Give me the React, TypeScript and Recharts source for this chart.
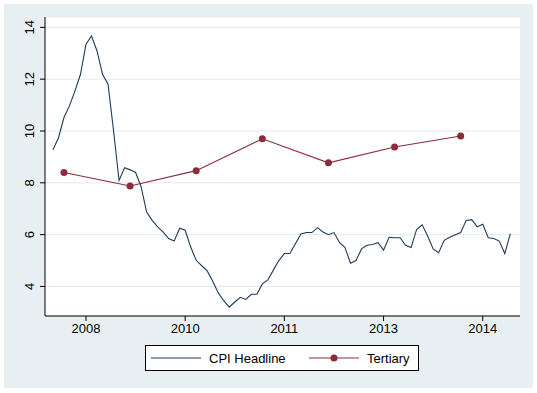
import { LineChart, Line, XAxis, YAxis, CartesianGrid, Legend } from 'recharts';

// monthly CPI headline, 2008m1 .. 2014m12
const cpiHeadline = [
  9.28, 9.73, 10.52, 10.97, 11.55, 12.19, 13.35, 13.67, 13.09, 12.19,
  11.81, 10.01, 8.09, 8.58, 8.5, 8.4, 7.85, 6.87, 6.55, 6.3,
  6.1, 5.85, 5.75, 6.25, 6.17, 5.52, 5.01, 4.8, 4.6, 4.2,
  3.75, 3.45, 3.2, 3.4, 3.58, 3.5, 3.7, 3.7, 4.1, 4.25,
  4.63, 5.0, 5.27, 5.27, 5.65, 6.03, 6.08, 6.08, 6.27, 6.1,
  6.0, 6.08, 5.7, 5.5, 4.9, 5.0, 5.45, 5.59, 5.62, 5.69,
  5.4, 5.9, 5.88, 5.88, 5.59, 5.5, 6.2, 6.38, 5.95, 5.45,
  5.3, 5.78, 5.9, 6.0, 6.08, 6.55, 6.58, 6.3, 6.4, 5.88,
  5.85, 5.75, 5.27, 6.04,
];

// tertiary rate, one reading a year (month index from 2008m1)
const tertiaryMonths = [2, 14, 26, 38, 50, 62, 74];
const tertiary = [8.4, 7.88, 8.47, 9.7, 8.77, 9.38, 9.81];

const xTicks = [6, 24, 42, 60, 78];
const xTickLabels = ['2008', '2010', '2011', '2013', '2014'];
const yTicks = [4, 6, 8, 10, 12, 14];

const cpiData = cpiHeadline.map((v, i) => ({ t: i, cpi: v }));
const tertiaryData = tertiary.map((v, i) => ({ t: tertiaryMonths[i], tertiary: v }));

const NAVY = '#1d3b5a';
const MAROON = '#8a2d3b';
const FONT = '"Liberation Sans", Arial, sans-serif';

function YTick(props: any) {
  const { x, y, payload } = props;
  return (
    <text
      transform={`translate(${x - 4.5},${y}) rotate(-90)`}
      textAnchor="middle"
      fontSize={13}
      fontFamily={FONT}
      fill="#000"
    >
      {payload.value}
    </text>
  );
}

function LegendBox() {
  return (
    <div
      style={{
        position: 'absolute',
        left: 145,
        top: 345,
        width: 272,
        height: 24,
        border: '1px solid #000',
        background: '#fff',
        fontFamily: FONT,
        fontSize: 13,
        color: '#000',
      }}
    >
      <svg width={272} height={24} style={{ position: 'absolute', left: 0, top: 0 }}>
        <line x1={5} x2={55} y1={12} y2={12} stroke={NAVY} strokeWidth={1} />
        <text x={63} y={16.5} fontSize={13} fontFamily={FONT}>CPI Headline</text>
        <line x1={163} x2={213} y1={12} y2={12} stroke={MAROON} strokeWidth={1} />
        <circle cx={188} cy={12} r={3.5} fill={MAROON} />
        <text x={221} y={16.5} fontSize={13} fontFamily={FONT}>Tertiary</text>
      </svg>
    </div>
  );
}

export default function App() {
  return (
    <div style={{ position: 'relative', width: 537, height: 393, background: '#fff' }}>
      <style>{`body { margin: 0; }`}</style>
      <div
        style={{
          position: 'absolute',
          left: 4,
          top: 4,
          width: 529,
          height: 384,
          background: '#e8eff2',
        }}
      />
      <div style={{ position: 'absolute', left: 0, top: 0 }}>
        <LineChart
          width={537}
          height={393}
          margin={{ top: 17, right: 17, left: 0, bottom: 47 }}
        >
          <CartesianGrid horizontal vertical={false} stroke="#e4e9ec" fill="#fff" />
          <XAxis
            type="number"
            dataKey="t"
            domain={[-1.44, 84.76]}
            allowDataOverflow
            ticks={xTicks}
            tickFormatter={(v: number) => xTickLabels[xTicks.indexOf(v)]}
            height={30}
            tickSize={5}
            tickMargin={3}
            stroke="#000"
            tick={{ fontSize: 13, fontFamily: FONT, fill: '#000' }}
          />
          <YAxis
            type="number"
            domain={[2.86, 14.4]}
            allowDataOverflow
            ticks={yTicks}
            width={45}
            tickSize={5}
            tickMargin={2}
            stroke="#000"
            tick={<YTick />}
          />
          <Legend content={() => null} />
          <Line
            data={cpiData}
            dataKey="cpi"
            name="CPI Headline"
            stroke={NAVY}
            strokeWidth={1.1}
            dot={false}
            type="linear"
            isAnimationActive={false}
          />
          <Line
            data={tertiaryData}
            dataKey="tertiary"
            name="Tertiary"
            stroke={MAROON}
            strokeWidth={1.1}
            dot={{ r: 3.5, fill: MAROON, stroke: MAROON, strokeWidth: 0 }}
            type="linear"
            isAnimationActive={false}
          />
        </LineChart>
      </div>
      <LegendBox />
    </div>
  );
}
